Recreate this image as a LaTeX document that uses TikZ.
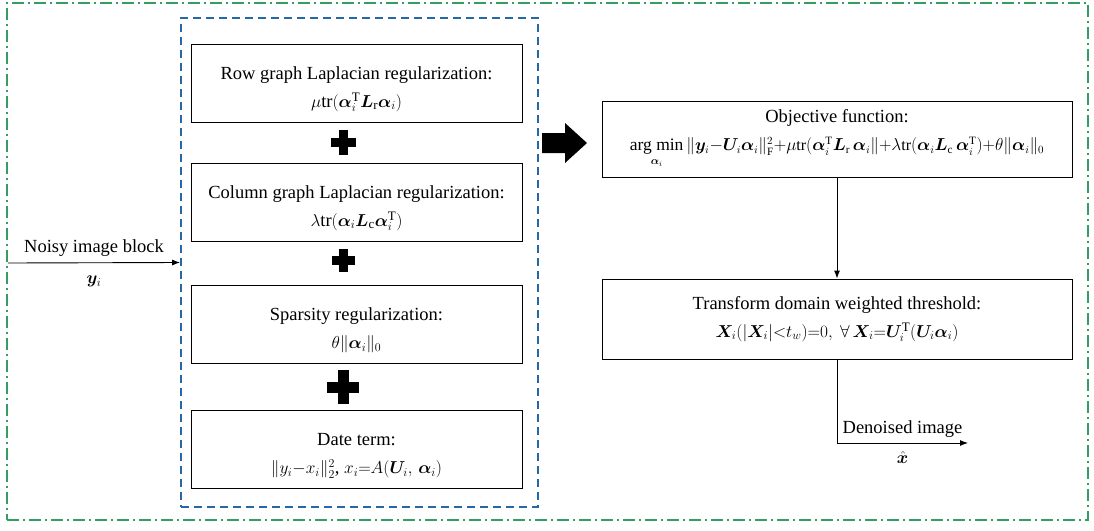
\documentclass[tikz,border=0pt]{standalone}
\usepackage{fontspec}
\setmainfont{Liberation Serif}
\usepackage{amsmath,bm}
\usetikzlibrary{arrows.meta}

\definecolor{framegreen}{RGB}{52,158,98}
\definecolor{frameblue}{RGB}{38,104,166}

% a little extra room above the first line of a term box
\newcommand{\topgap}{\rule{0pt}{25pt}}

\begin{document}
\begin{tikzpicture}[x=1pt,y=-1pt,
  box/.style={draw,line width=0.9pt,minimum width=331pt,minimum height=78pt,
    align=center,inner sep=0pt,font=\fontsize{18.5}{28}\selectfont},
  bigbox/.style={box,minimum width=470pt},
  lbl/.style={font=\fontsize{18.5}{20}\selectfont,inner sep=2pt},
  >={Latex[length=8pt,width=6pt]}]
\useasboundingbox (0,0) rectangle (1094,530);

% frames
\node[draw=framegreen,line width=1.8pt,dash pattern=on 12pt off 4pt on 2pt off 4pt,
  minimum width=1081pt,minimum height=517pt,inner sep=0pt] (frame) at (547.5,261.5) {};
\node[draw=frameblue,line width=1.8pt,dash pattern=on 8pt off 5pt,
  minimum width=357pt,minimum height=489pt,inner sep=0pt] (group) at (359.5,262.5) {};

% regularization terms
\node[box] (row) at (356.5,83) {\topgap Row graph Laplacian regularization:\\
  $\mu\text{tr}(\bm{\alpha}_i^{\mathrm T}\bm{L}_{\mathrm r}\bm{\alpha}_i)$};
\node[box] (col) at (356.5,202) {\topgap Column graph Laplacian regularization:\\
  $\lambda\text{tr}(\bm{\alpha}_i\bm{L}_{\mathrm c}\bm{\alpha}_i^{\mathrm T})$};
\node[box] (sparse) at (356.5,324.5) {\topgap Sparsity regularization:\\
  $\theta\|\bm{\alpha}_i\|_0$};
\node[box] (data) at (356.5,449.5) {\topgap Date term:\\
  $\|y_i{-}x_i\|_2^2$, $x_i{=}A(\bm{U}_i,\,\bm{\alpha}_i)$};

% plus signs
\fill (330.5,138) rectangle (355.5,146.5);
\fill (338.5,130) rectangle (347.5,154.5);
\fill (331.5,256) rectangle (354.5,264.5);
\fill (338.5,248.5) rectangle (347.5,272);
\fill (327,382) rectangle (359,392.5);
\fill (337.5,370) rectangle (348.5,404);

% big arrow
\fill (542,133) -- (565,133) -- (565,123) -- (587,143) -- (565,163) -- (565,153) -- (542,153) -- cycle;

% right column
\node[bigbox,minimum height=76pt] (obj) at (837,139) {Objective function:\\
  \fontsize{16}{20}\selectfont
  $\mathop{\text{\fontsize{17.5}{20}\selectfont arg min}}\limits_{\bm{\alpha}_i}
  \|\bm{y}_i{-}\bm{U}_i\bm{\alpha}_i\|_{\mathrm F}^2{+}\mu\text{tr}(\bm{\alpha}_i^{\mathrm T}\bm{L}_{\mathrm r}\,\bm{\alpha}_i\|
  {+}\lambda\text{tr}(\bm{\alpha}_i\bm{L}_{\mathrm c}\,\bm{\alpha}_i^{\mathrm T}){+}\theta\|\bm{\alpha}_i\|_0$};
\node[bigbox,minimum height=80pt] (trans) at (837,319) {Transform domain weighted threshold:\\
  $\bm{X}_i(|\bm{X}_i|{<}t_w){=}0,\ \forall\,\bm{X}_i{=}\bm{U}_i^{\mathrm T}(\bm{U}_i\bm{\alpha}_i)$};

% connectors
\coordinate (in) at (8,263);
\coordinate (out) at (968,443);
\draw[->,line width=0.9pt] (in) -- (group.west)
  node[lbl,midway,above=4pt] {Noisy image block}
  node[lbl,midway,below=11pt] {$\bm{y}_i$};
\draw[->,line width=0.9pt] (obj.south) -- (trans.north);
\draw[->,line width=0.9pt] (trans.south) |- (out)
  node[lbl,pos=0.75,above=3pt] {Denoised image}
  node[lbl,pos=0.75,below=6pt] {$\hat{\bm{x}}$};
\end{tikzpicture}
\end{document}
